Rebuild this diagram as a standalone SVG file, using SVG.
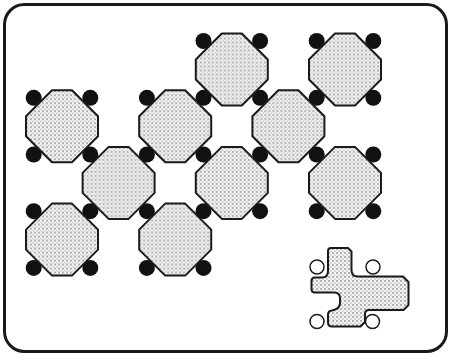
<svg xmlns="http://www.w3.org/2000/svg" xmlns:xlink="http://www.w3.org/1999/xlink" width="449" height="358" viewBox="0 0 449 358">
  <defs>
    <pattern id="stipple" width="4" height="4" patternUnits="userSpaceOnUse">
      <rect width="4" height="4" fill="#f4f4f4"/>
      <circle cx="1" cy="1" r="0.65" fill="#3a3a3a"/>
      <circle cx="3" cy="3" r="0.5" fill="#6a6a6a"/>
    </pattern>
    <polygon id="oct" points="-10,-36 10,-36 36,-10 36,10 10,36 -10,36 -36,10 -36,-10"/>
    <style>
      .frame { fill: #ffffff; stroke: #1a1a1a; stroke-width: 3; }
      .octo { fill: url(#stipple); stroke: #1a1a1a; stroke-width: 2; stroke-linejoin: round; }
      .pin { fill: #111111; }
      .ring { fill: #ffffff; stroke: #1a1a1a; stroke-width: 1.5; }
    </style>
  </defs>
  <rect width="449" height="358" fill="#ffffff"/>
  <rect class="frame" x="4.5" y="4.5" width="442" height="347" rx="20" ry="20"/>

  <g id="connectors">
    <g id="pins">
      <circle class="pin" cx="203.5" cy="41" r="8"/>
      <circle class="pin" cx="260.1" cy="41" r="8"/>
      <circle class="pin" cx="316.7" cy="41" r="8"/>
      <circle class="pin" cx="373.3" cy="41" r="8"/>

      <circle class="pin" cx="33.7" cy="97.8" r="8"/>
      <circle class="pin" cx="90.3" cy="97.8" r="8"/>
      <circle class="pin" cx="146.9" cy="97.8" r="8"/>
      <circle class="pin" cx="203.5" cy="97.8" r="8"/>
      <circle class="pin" cx="260.1" cy="97.8" r="8"/>
      <circle class="pin" cx="316.7" cy="97.8" r="8"/>
      <circle class="pin" cx="373.3" cy="97.8" r="8"/>

      <circle class="pin" cx="33.7" cy="154.5" r="8"/>
      <circle class="pin" cx="90.3" cy="154.5" r="8"/>
      <circle class="pin" cx="146.9" cy="154.5" r="8"/>
      <circle class="pin" cx="203.5" cy="154.5" r="8"/>
      <circle class="pin" cx="260.1" cy="154.5" r="8"/>
      <circle class="pin" cx="316.7" cy="154.5" r="8"/>
      <circle class="pin" cx="373.3" cy="154.5" r="8"/>

      <circle class="pin" cx="33.7" cy="211.2" r="8"/>
      <circle class="pin" cx="90.3" cy="211.2" r="8"/>
      <circle class="pin" cx="146.9" cy="211.2" r="8"/>
      <circle class="pin" cx="203.5" cy="211.2" r="8"/>
      <circle class="pin" cx="260.1" cy="211.2" r="8"/>
      <circle class="pin" cx="316.7" cy="211.2" r="8"/>
      <circle class="pin" cx="373.3" cy="211.2" r="8"/>

      <circle class="pin" cx="33.7" cy="267.9" r="8"/>
      <circle class="pin" cx="90.3" cy="267.9" r="8"/>
      <circle class="pin" cx="146.9" cy="267.9" r="8"/>
      <circle class="pin" cx="203.5" cy="267.9" r="8"/>
    </g>
    <g id="rings">
      <circle class="ring" cx="317" cy="267" r="7"/>
      <circle class="ring" cx="373" cy="267" r="7"/>
      <circle class="ring" cx="317" cy="321.5" r="7"/>
      <circle class="ring" cx="372.5" cy="321.5" r="7"/>
    </g>
  </g>

  <g id="oct-r0c3"><use href="#oct" class="octo" transform="translate(231.8,69.5)"/></g>
  <g id="oct-r0c5"><use href="#oct" class="octo" transform="translate(345,69.5)"/></g>
  <g id="oct-r1c0"><use href="#oct" class="octo" transform="translate(62,126.2)"/></g>
  <g id="oct-r1c2"><use href="#oct" class="octo" transform="translate(175.2,126.2)"/></g>
  <g id="oct-r1c4"><use href="#oct" class="octo" transform="translate(288.4,126.2)"/></g>
  <g id="oct-r2c1"><use href="#oct" class="octo" transform="translate(118.6,182.9)"/></g>
  <g id="oct-r2c3"><use href="#oct" class="octo" transform="translate(231.8,182.9)"/></g>
  <g id="oct-r2c5"><use href="#oct" class="octo" transform="translate(345,182.9)"/></g>
  <g id="oct-r3c0"><use href="#oct" class="octo" transform="translate(62,239.6)"/></g>
  <g id="oct-r3c2"><use href="#oct" class="octo" transform="translate(175.2,239.6)"/></g>

  <g id="cross-piece">
    <path class="octo" d="M 331,248 L 348,248 L 351.5,251.5 L 351.5,270 Q 351.5,276.5 358,276.5 L 403,276.5 L 408.5,282 L 408.5,305 L 403.5,310 L 369,310 Q 365,310 365,314 L 365,322 L 360.5,326.5 L 332,326.5 Q 328,326.5 328,322.5 L 328,314.5 Q 328,311 332,310.5 Q 340,309 340,303 L 340,298 Q 340,292.5 334,292.5 L 315,292.5 Q 311.5,292.5 311.5,289 L 311.5,281 Q 311.5,277.5 315,277.5 L 322,277.5 Q 328,277.5 328,271 L 328,251 Q 328,248 331,248 Z"/>
  </g>
</svg>
